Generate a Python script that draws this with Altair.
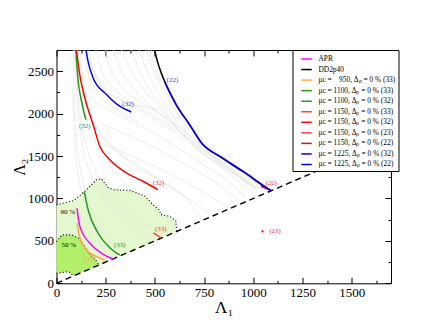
import altair as alt
import pandas as pd

FONT = "Liberation Serif"

# ---------------- colored curves ----------------
series_names = [
    "APR",
    "DD2p40",
    "μc =\u2007\u2007950, Δₚ = 0 % (33)",
    "μc = 1100, Δₚ = 0 % (33)",
    "μc = 1100, Δₚ = 0 % (32)",
    "μc = 1150, Δₚ = 0 % (33)",
    "μc = 1150, Δₚ = 0 % (32)",
    "μc = 1150, Δₚ = 0 % (23)",
    "μc = 1150, Δₚ = 0 % (22)",
    "μc = 1225, Δₚ = 0 % (32)",
    "μc = 1225, Δₚ = 0 % (22)",
]
series_colors = ["#ff00ff", "#000000", "#ffa850", "#1f9a1f", "#1f9a1f",
                 "#ff4040", "#ff0000", "#ff4040", "#ff0000", "#0000ff", "#0000ff"]

apr_x = [104, 119, 178, 229, 288]
apr_y = [884, 668, 452, 354, 287]
dd2_x = [498, 515, 549, 608, 676, 744, 828, 946, 1082, 1090]
dd2_y = [2750, 2600, 2382, 2107, 1871, 1635, 1498, 1321, 1105, 1093]
m950_33_x = [104, 119, 153, 204, 246]
m950_33_y = [708, 531, 393, 314, 272]
m1100_33_x = [141, 161, 212, 271, 322]
m1100_33_y = [1080, 864, 590, 420, 334]
m1100_32_x = [98, 110, 127, 149]
m1100_32_y = [2750, 2382, 2146, 1930]
m1150_33_x = [492, 532]
m1150_33_y = [594, 535]
m1150_32_x = [101, 118, 144, 186, 220, 270, 355, 439, 515]
m1150_32_y = [2750, 2461, 2186, 1871, 1616, 1458, 1301, 1203, 1105]
m1150_23_x = [1047]
m1150_23_y = [611]
m1150_22_x = [1039, 1066, 1092]
m1150_22_y = [1144, 1118, 1093]
m1225_32_x = [150, 160, 186, 254, 321, 380]
m1225_32_y = [2750, 2618, 2421, 2225, 2087, 2020]
m1225_22_x = [549, 608, 676, 744, 828, 946, 1082, 1092]
m1225_22_y = [2382, 2107, 1871, 1635, 1498, 1321, 1105, 1093]

curves = [
    (series_names[0], apr_x, apr_y),
    (series_names[1], dd2_x, dd2_y),
    (series_names[2], m950_33_x, m950_33_y),
    (series_names[3], m1100_33_x, m1100_33_y),
    (series_names[4], m1100_32_x, m1100_32_y),
    (series_names[5], m1150_33_x, m1150_33_y),
    (series_names[6], m1150_32_x, m1150_32_y),
    (series_names[8], m1150_22_x, m1150_22_y),
    (series_names[9], m1225_32_x, m1225_32_y),
    (series_names[10], m1225_22_x, m1225_22_y),
]

# ---------------- grey background curves ----------------
grey_curves = [
    ([480, 510, 545, 600, 680, 760, 850, 960, 1060], [2750, 2550, 2380, 2100, 1860, 1660, 1480, 1320, 1150]),
    ([468, 500, 538, 595, 675, 755, 845, 955, 1055], [2750, 2535, 2355, 2085, 1845, 1645, 1470, 1310, 1145]),
    ([455, 490, 530, 590, 670, 750, 840, 950, 1050], [2750, 2520, 2330, 2070, 1830, 1630, 1460, 1300, 1140]),
    ([420, 460, 510, 570, 650, 740, 830, 940, 1040], [2750, 2500, 2280, 2040, 1800, 1600, 1440, 1280, 1130]),
    ([380, 420, 480, 560, 640, 730, 830, 940, 1030], [2750, 2520, 2260, 2000, 1770, 1570, 1410, 1250, 1120]),
    ([330, 370, 440, 540, 640, 740, 850, 960, 1020], [2750, 2550, 2300, 2030, 1760, 1540, 1360, 1210, 1120]),
    ([290, 320, 380, 480, 600, 720, 840, 950, 1015], [2750, 2550, 2330, 2090, 1850, 1620, 1400, 1220, 1115]),
    ([250, 270, 320, 420, 560, 700, 830, 950, 1010], [2750, 2550, 2350, 2150, 1950, 1700, 1450, 1230, 1110]),
    ([200, 230, 290, 400, 560, 720, 860, 980], [2750, 2500, 2300, 2100, 1880, 1620, 1380, 1150]),
    ([170, 220, 310, 450, 600, 760, 900, 1000], [2600, 2350, 2180, 2000, 1780, 1500, 1250, 1060]),
    ([190, 300, 450, 600, 760, 900, 960], [2150, 2000, 1830, 1620, 1380, 1150, 1000]),
    ([210, 330, 480, 640, 800, 920], [1900, 1780, 1620, 1420, 1200, 980]),
    ([230, 350, 500, 650, 800, 880], [1650, 1530, 1380, 1200, 1000, 880]),
    ([110, 125, 150, 195, 260, 350, 460, 580, 700, 780], [2750, 2400, 2100, 1850, 1650, 1470, 1300, 1130, 950, 800]),
    ([120, 140, 175, 230, 310, 420, 540, 660, 740], [2750, 2300, 2000, 1760, 1560, 1380, 1200, 1000, 760]),
    ([92, 100, 115, 140, 180, 240, 320, 420, 470], [2750, 2300, 1900, 1550, 1250, 1000, 800, 620, 480]),
    ([98, 108, 130, 165, 215, 285, 370, 460, 560], [2750, 2250, 1850, 1520, 1250, 1020, 830, 680, 570]),
    ([85, 90, 100, 118, 145, 185, 240, 300], [2750, 2250, 1800, 1400, 1100, 850, 620, 420]),
    ([82, 88, 98, 115, 140, 175, 215, 250], [2300, 1900, 1500, 1200, 950, 720, 520, 370]),
    ([105, 118, 145, 190, 250, 330, 430, 530, 620], [2750, 2350, 2000, 1700, 1450, 1230, 1020, 830, 650]),
    ([140, 160, 210, 300, 420], [2750, 2500, 2250, 2050, 1900]),
    ([160, 200, 270, 380, 520], [2750, 2450, 2250, 2120, 2050]),
]

# ---------------- confidence regions ----------------
r90_x = [0, 60, 87, 101, 144, 204, 228, 262, 287, 372, 448, 490, 524, 530, 575, 606, 612]
r90_yu = [925, 960, 975, 1000, 1085, 1220, 1232, 1130, 1103, 1095, 1030, 928, 860, 810, 790, 735, 612]
r90_yl = [118, 136, 88, 101, 144, 204, 228, 262, 287, 372, 448, 490, 524, 530, 575, 606, 612]
r50_x = [0, 28, 62, 79, 87, 113, 138, 163, 190, 205, 215]
r50_yu = [490, 570, 572, 570, 560, 530, 452, 354, 300, 255, 215]
r50_yl = [118, 128, 137, 105, 88, 113, 138, 163, 190, 205, 215]

# ---------------- annotations ----------------
ann_text = ["(22)", "(32)", "(32)", "(32)", "(22)", "(33)", "(23)", "(33)", "(33)", "90 %", "50 %"]
ann_x = [589, 364, 144, 519, 1092, 530, 1111, 322, 170, 57, 63]
ann_y = [2394, 2114, 1852, 1183, 1186, 637, 620, 452, 283, 845, 452]
ann_color = ["#3a3aff", "#3a3aff", "#1f9a1f", "#ff3030", "#ff3030", "#ff3030", "#ff3030",
             "#1f9a1f", "#ffa040", "#000000", "#000000"]

x_major = [0, 250, 500, 750, 1000, 1250, 1500]
x_minor = [125, 375, 625, 875, 1125, 1375, 1625]
y_major = [0, 500, 1000, 1500, 2000, 2500]
y_minor = [250, 750, 1250, 1750, 2250]

# ---------------- build tables ----------------
rows = []
for name, xs_, ys_ in curves:
    for i, (a, b) in enumerate(zip(xs_, ys_)):
        rows.append({"series": name, "x": a, "y": b, "o": i})
df_c = pd.DataFrame(rows)

grows = []
for k, (xs_, ys_) in enumerate(grey_curves):
    for i, (a, b) in enumerate(zip(xs_, ys_)):
        grows.append({"g": k, "x": a, "y": b, "o": i})
df_g = pd.DataFrame(grows)

df90 = pd.DataFrame({"x": r90_x, "yu": r90_yu, "yl": r90_yl})
df50 = pd.DataFrame({"x": r50_x, "yu": r50_yu, "yl": r50_yl})

brows = []
for i, (a, b) in enumerate(zip(r90_x, r90_yu)):
    brows.append({"b": "90u", "x": a, "y": b, "o": i})
for i, (a, b) in enumerate(zip(r50_x, r50_yu)):
    brows.append({"b": "50u", "x": a, "y": b, "o": i})
for i, (a, b) in enumerate(zip(r50_x[:5], r50_yl[:5])):
    brows.append({"b": "50l", "x": a, "y": b, "o": i})
df_b = pd.DataFrame(brows)

df_ann = pd.DataFrame({"x": ann_x, "y": ann_y, "t": ann_text, "c": ann_color})
df_diag = pd.DataFrame({"x": [0, 1700], "y": [0, 1700]})
df_pt = pd.DataFrame({"x": m1150_23_x, "y": m1150_23_y})

xs = alt.Scale(domain=[0, 1700], nice=False, zero=False)
ys = alt.Scale(domain=[0, 2750], nice=False, zero=False)


def X(field="x", axis=None):
    return alt.X(f"{field}:Q", scale=xs, axis=axis)


def Y(field="y", axis=None):
    return alt.Y(f"{field}:Q", scale=ys, axis=axis)


area90 = alt.Chart(df90).mark_area(color="#e4f8cf", opacity=1).encode(
    x=X(), y=Y("yu"), y2="yl:Q")
area50 = alt.Chart(df50).mark_area(color="#b2f06a", opacity=1).encode(
    x=X(), y=Y("yu"), y2="yl:Q")

grey = alt.Chart(df_g).mark_line(color="#e4e4e4", strokeWidth=0.7, interpolate="monotone", clip=True).encode(
    x=X(), y=Y(), detail="g:N", order="o:Q")

bounds = alt.Chart(df_b).mark_line(color="black", strokeWidth=1.2, strokeDash=[1, 2.2]).encode(
    x=X(), y=Y(), detail="b:N", order="o:Q")

diag = alt.Chart(df_diag).mark_line(color="black", strokeWidth=1.4, strokeDash=[6, 4]).encode(
    x=X(), y=Y())

colored = alt.Chart(df_c).mark_line(strokeWidth=1.5, interpolate="monotone", clip=True).encode(
    x=X(), y=Y(), order="o:Q",
    color=alt.Color("series:N",
                    scale=alt.Scale(domain=series_names, range=series_colors),
                    legend=alt.Legend(title=None, orient="none", legendX=236, legendY=0,
                                      symbolType="stroke", symbolSize=110, symbolStrokeWidth=1.5,
                                      labelFont=FONT, labelFontSize=7.4, labelColor="black",
                                      rowPadding=0.55, padding=3, offset=0,
                                      fillColor="white", strokeColor="black",
                                      labelOffset=6, labelLimit=300, symbolOffset=5)),
)

pt = alt.Chart(df_pt).mark_circle(color="#ff0000", size=5, opacity=1).encode(x=X(), y=Y())

ann = alt.Chart(df_ann).mark_text(font=FONT, fontSize=7, align="center", baseline="middle").encode(
    x=X(), y=Y(), text="t:N", color=alt.Color("c:N", scale=None))

common = dict(domain=False, grid=False, tickColor="black", tickWidth=1,
              labelFont=FONT, labelColor="black", titleFont=FONT, titleColor="black",
              titleFontWeight="normal", labelFlush=False, labelOverlap=False, format="d")

ax_main = alt.Chart(df_diag).mark_point(opacity=0).encode(
    x=X(axis=alt.Axis(orient="bottom", values=x_major, tickSize=6, offset=-6, labelPadding=3,
                      labelFontSize=13, title="Λ₁", titleFontSize=17, titlePadding=0, **common)),
    y=Y(axis=alt.Axis(orient="left", values=y_major, tickSize=6, offset=-6, labelPadding=3,
                      labelFontSize=13, title="Λ₂", titleFontSize=16, titlePadding=0, **common)),
)
ax_minor = alt.Chart(df_diag).mark_point(opacity=0).encode(
    x=X(axis=alt.Axis(orient="bottom", values=x_minor, tickSize=3, offset=-3, labels=False,
                      title=None, **common)),
    y=Y(axis=alt.Axis(orient="left", values=y_minor, tickSize=3, offset=-3, labels=False,
                      title=None, **common)),
)
ax_top = alt.Chart(df_diag).mark_point(opacity=0).encode(
    x=X(axis=alt.Axis(orient="top", values=x_major, tickSize=6, offset=-6, labels=False,
                      title=None, **common)),
    y=Y(axis=alt.Axis(orient="right", values=y_major, tickSize=6, offset=-6, labels=False,
                      title=None, **common)),
)
ax_top_minor = alt.Chart(df_diag).mark_point(opacity=0).encode(
    x=X(axis=alt.Axis(orient="top", values=x_minor, tickSize=3, offset=-3, labels=False,
                      title=None, **common)),
    y=Y(axis=alt.Axis(orient="right", values=y_minor, tickSize=3, offset=-3, labels=False,
                      title=None, **common)),
)

chart = alt.layer(
    area90, area50, grey, bounds, diag, colored, pt, ann,
    ax_main, ax_minor, ax_top, ax_top_minor,
).resolve_axis(x="independent", y="independent").properties(
    width=334.5, height=233.3,
    autosize=alt.AutoSizeParams(type="none"),
    padding={"left": 48.5, "top": 42, "right": 30, "bottom": 40},
    background="white",
).configure_view(stroke="black", strokeWidth=1)

chart.save("out.html", embed_options={"renderer": "svg", "actions": False})
